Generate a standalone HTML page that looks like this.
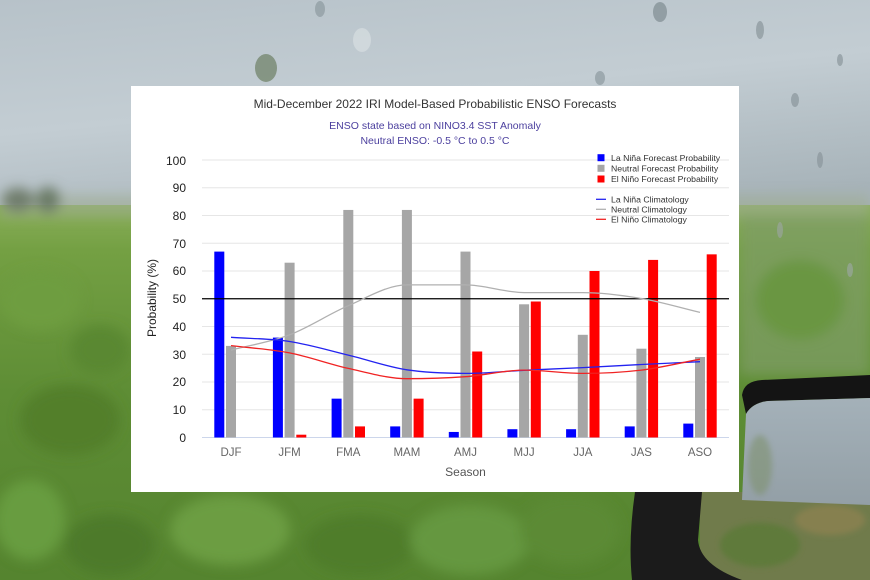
<!DOCTYPE html>
<html>
<head>
<meta charset="utf-8">
<style>
  html,body{margin:0;padding:0;width:870px;height:580px;overflow:hidden;background:#6f9a44;}
  svg{display:block;}
  text{font-family:"Liberation Sans","DejaVu Sans",sans-serif;}
</style>
</head>
<body>
<svg width="870" height="580" viewBox="0 0 870 580" xmlns="http://www.w3.org/2000/svg">
  <defs>
    <linearGradient id="sky" x1="0" y1="0" x2="0.35" y2="1">
      <stop offset="0" stop-color="#b7c2c9"/>
      <stop offset="0.5" stop-color="#c3cdd3"/>
      <stop offset="1" stop-color="#a7b3b9"/>
    </linearGradient>
    <linearGradient id="field" x1="0" y1="0" x2="0" y2="1">
      <stop offset="0" stop-color="#8aae5a"/>
      <stop offset="0.12" stop-color="#74a043"/>
      <stop offset="0.5" stop-color="#5e8d35"/>
      <stop offset="1" stop-color="#55842f"/>
    </linearGradient>
    <linearGradient id="glass" x1="0" y1="0" x2="0" y2="1">
      <stop offset="0" stop-color="#a4b1b9"/>
      <stop offset="1" stop-color="#939fa6"/>
    </linearGradient>
    <filter id="b6" x="-20%" y="-20%" width="140%" height="140%"><feGaussianBlur stdDeviation="6"/></filter>
    <filter id="b3" x="-20%" y="-20%" width="140%" height="140%"><feGaussianBlur stdDeviation="3"/></filter>
  </defs>

  <!-- background photo approximation -->
  <rect x="0" y="0" width="870" height="240" fill="url(#sky)"/>
  <rect x="0" y="205" width="870" height="375" fill="url(#field)"/>
  <g filter="url(#b6)">
    <rect x="0" y="195" width="870" height="22" fill="#9fae92" opacity="0.6"/>
    <ellipse cx="18" cy="200" rx="16" ry="12" fill="#6f7d6c"/>
    <ellipse cx="48" cy="200" rx="12" ry="13" fill="#6a7a66"/>
    <rect x="740" y="215" width="130" height="160" fill="#7f9d66" opacity="0.7"/>
    <ellipse cx="40" cy="300" rx="40" ry="30" fill="#6e9d40"/>
    <ellipse cx="70" cy="420" rx="50" ry="35" fill="#527f2c"/>
    <ellipse cx="30" cy="520" rx="35" ry="40" fill="#689c3f"/>
    <ellipse cx="110" cy="545" rx="45" ry="30" fill="#4d7a2a"/>
    <ellipse cx="230" cy="530" rx="60" ry="35" fill="#6c9d42"/>
    <ellipse cx="360" cy="545" rx="55" ry="30" fill="#4f7d2c"/>
    <ellipse cx="470" cy="540" rx="60" ry="35" fill="#659740"/>
    <ellipse cx="570" cy="530" rx="50" ry="35" fill="#5b8a34"/>
    <ellipse cx="100" cy="350" rx="30" ry="25" fill="#5a8833"/>
    <ellipse cx="800" cy="300" rx="45" ry="40" fill="#6b9643"/>
  </g>
  <!-- raindrops -->
  <g opacity="0.7">
    <ellipse cx="266" cy="68" rx="11" ry="14" fill="#6d7f64"/>
    <ellipse cx="362" cy="40" rx="9" ry="12" fill="#d7dee2"/>
    <ellipse cx="320" cy="9" rx="5" ry="8" fill="#8e9aa0"/>
    <ellipse cx="600" cy="78" rx="5" ry="7" fill="#8d9a9f"/>
    <ellipse cx="660" cy="12" rx="7" ry="10" fill="#7f8c92"/>
    <ellipse cx="760" cy="30" rx="4" ry="9" fill="#8a969c"/>
    <ellipse cx="795" cy="100" rx="4" ry="7" fill="#8a969c"/>
    <ellipse cx="840" cy="60" rx="3" ry="6" fill="#8a969c"/>
    <ellipse cx="820" cy="160" rx="3" ry="8" fill="#8a969c"/>
    <ellipse cx="780" cy="230" rx="3" ry="8" fill="#9aa69c"/>
    <ellipse cx="850" cy="270" rx="3" ry="7" fill="#9aa69c"/>
  </g>
  <!-- car mirror -->
  <rect x="700" y="492" width="170" height="88" fill="#707b4b"/>
  <g filter="url(#b3)">
    <ellipse cx="760" cy="545" rx="40" ry="22" fill="#5e7a3a"/>
    <ellipse cx="830" cy="520" rx="35" ry="15" fill="#86804f"/>
  </g>
  <path d="M742 395 Q744 381 762 380 L870 375 L870 398 L768 401 Q752 403 746 414 Z" fill="#141414"/>
  <path d="M746 414 Q752 403 768 401 L870 398 L870 505 L742 500 Z" fill="url(#glass)"/>
  <ellipse cx="760" cy="465" rx="12" ry="30" fill="#7f9270" opacity="0.6" filter="url(#b3)"/>
  <path d="M635 492 L702 492 L698 540 Q700 565 742 580 L632 580 Q628 540 635 492 Z" fill="#1b1b1b"/>

  <!-- chart panel -->
  <rect x="131" y="86" width="608" height="406" fill="#ffffff"/>

  <!-- titles -->
  <text x="435" y="108" text-anchor="middle" font-size="12" fill="#333333">Mid-December 2022 IRI Model-Based Probabilistic ENSO Forecasts</text>
  <text x="435" y="129" text-anchor="middle" font-size="10.5" fill="#4b3f9e">ENSO state based on NINO3.4 SST Anomaly</text>
  <text x="435" y="144" text-anchor="middle" font-size="10.5" fill="#4b3f9e">Neutral ENSO: -0.5 °C to 0.5 °C</text>

  <!-- gridlines -->
  <g stroke="#e6e6e6" stroke-width="1">
    <line x1="202" x2="729" y1="160" y2="160"/>
    <line x1="202" x2="729" y1="187.75" y2="187.75"/>
    <line x1="202" x2="729" y1="215.5" y2="215.5"/>
    <line x1="202" x2="729" y1="243.25" y2="243.25"/>
    <line x1="202" x2="729" y1="271" y2="271"/>
    <line x1="202" x2="729" y1="326.5" y2="326.5"/>
    <line x1="202" x2="729" y1="354.25" y2="354.25"/>
    <line x1="202" x2="729" y1="382" y2="382"/>
    <line x1="202" x2="729" y1="409.75" y2="409.75"/>
  </g>
  <line x1="202" x2="729" y1="437.5" y2="437.5" stroke="#ccd6eb" stroke-width="1"/>

  <!-- y labels -->
  <g font-size="12" fill="#222" text-anchor="end">
    <text x="186" y="165">100</text>
    <text x="186" y="192">90</text>
    <text x="186" y="220">80</text>
    <text x="186" y="248">70</text>
    <text x="186" y="275">60</text>
    <text x="186" y="303">50</text>
    <text x="186" y="331">40</text>
    <text x="186" y="359">30</text>
    <text x="186" y="386">20</text>
    <text x="186" y="414">10</text>
    <text x="186" y="442">0</text>
  </g>
  <text transform="translate(156,298) rotate(-90)" text-anchor="middle" font-size="12" fill="#222">Probability (%)</text>

  <!-- bars: La Nina (blue) -->
  <g fill="#0000ff">
    <rect x="214.3" y="251.6" width="10" height="185.9"/>
    <rect x="272.9" y="337.6" width="10" height="99.9"/>
    <rect x="331.6" y="398.65" width="10" height="38.85"/>
    <rect x="390.2" y="426.4" width="10" height="11.1"/>
    <rect x="448.8" y="431.95" width="10" height="5.55"/>
    <rect x="507.4" y="429.2" width="10" height="8.3"/>
    <rect x="566.1" y="429.2" width="10" height="8.3"/>
    <rect x="624.7" y="426.4" width="10" height="11.1"/>
    <rect x="683.3" y="423.6" width="10" height="13.9"/>
  </g>
  <!-- bars: Neutral (gray) -->
  <g fill="#a6a6a6">
    <rect x="226" y="345.9" width="10" height="91.6"/>
    <rect x="284.6" y="262.7" width="10" height="174.8"/>
    <rect x="343.3" y="209.95" width="10" height="227.55"/>
    <rect x="401.9" y="209.95" width="10" height="227.55"/>
    <rect x="460.5" y="251.6" width="10" height="185.9"/>
    <rect x="519.1" y="304.3" width="10" height="133.2"/>
    <rect x="577.8" y="334.8" width="10" height="102.7"/>
    <rect x="636.4" y="348.7" width="10" height="88.8"/>
    <rect x="695" y="357" width="10" height="80.5"/>
  </g>
  <!-- bars: El Nino (red) -->
  <g fill="#ff0000">
    <rect x="296.3" y="434.7" width="10" height="2.8"/>
    <rect x="355" y="426.4" width="10" height="11.1"/>
    <rect x="413.6" y="398.65" width="10" height="38.85"/>
    <rect x="472.2" y="351.5" width="10" height="86"/>
    <rect x="530.8" y="301.5" width="10" height="136"/>
    <rect x="589.5" y="271" width="10" height="166.5"/>
    <rect x="648.1" y="259.9" width="10" height="177.6"/>
    <rect x="706.7" y="254.35" width="10" height="183.15"/>
  </g>

  <!-- 50% line -->
  <line x1="202" x2="729" y1="298.75" y2="298.75" stroke="#000" stroke-width="1.2"/>

  <!-- climatology lines -->
  <path fill="none" stroke="#b0b0b0" stroke-width="1.3" d="M231 350.1 C250.5 345.0 270.1 342.2 289.6 334.8 C309.1 327.4 328.8 314.0 348.3 305.7 C367.8 297.4 387.4 284.9 406.9 284.9 C426.4 284.9 446.0 284.9 465.5 284.9 C485.0 284.9 504.6 292.6 524.1 292.6 C543.6 292.6 563.3 292.6 582.8 292.6 C602.3 292.6 621.9 295.2 641.4 298.5 C660.9 301.8 680.5 307.8 700.0 312.4"/>
  <path fill="none" stroke="#2323f0" stroke-width="1.3" d="M231 337.3 C250.5 338.7 270.1 338.5 289.6 341.5 C309.1 344.5 328.8 350.4 348.3 355.1 C367.8 359.8 387.4 366.8 406.9 369.8 C426.4 372.8 446.0 373.3 465.5 373.4 C485.0 373.5 504.6 371.3 524.1 370.3 C543.6 369.3 563.3 368.6 582.8 367.6 C602.3 366.6 621.9 365.5 641.4 364.5 C660.9 363.5 680.5 362.6 700.0 361.7"/>
  <path fill="none" stroke="#f02323" stroke-width="1.3" d="M231 345.6 C250.5 348.0 270.1 349.1 289.6 352.9 C309.1 356.7 328.8 364.1 348.3 368.4 C367.8 372.7 387.4 378.7 406.9 378.7 C426.4 378.7 446.0 378.1 465.5 376.7 C485.0 375.3 504.6 370.1 524.1 370.1 C543.6 370.1 563.3 373.4 582.8 373.4 C602.3 373.4 621.9 372.5 641.4 370.1 C660.9 367.7 680.5 362.8 700.0 359.2"/>

  <!-- x labels -->
  <g font-size="11.5" fill="#666" text-anchor="middle">
    <text x="231" y="456">DJF</text>
    <text x="289.6" y="456">JFM</text>
    <text x="348.3" y="456">FMA</text>
    <text x="406.9" y="456">MAM</text>
    <text x="465.5" y="456">AMJ</text>
    <text x="524.1" y="456">MJJ</text>
    <text x="582.8" y="456">JJA</text>
    <text x="641.4" y="456">JAS</text>
    <text x="700" y="456">ASO</text>
  </g>
  <text x="465.5" y="476" text-anchor="middle" font-size="12" fill="#555">Season</text>

  <!-- legend -->
  <rect x="597.5" y="154.2" width="7" height="7" fill="#0000ff"/>
  <rect x="597.5" y="164.8" width="7" height="7" fill="#a6a6a6"/>
  <rect x="597.5" y="175.5" width="7" height="7" fill="#ff0000"/>
  <line x1="596" x2="606" y1="199.3" y2="199.3" stroke="#2323f0" stroke-width="1.3"/>
  <line x1="596" x2="606" y1="209.3" y2="209.3" stroke="#b0b0b0" stroke-width="1.3"/>
  <line x1="596" x2="606" y1="219.3" y2="219.3" stroke="#f02323" stroke-width="1.3"/>
  <g font-size="8.7" fill="#333">
    <text x="611" y="160.8">La Niña Forecast Probability</text>
    <text x="611" y="171.4">Neutral Forecast Probability</text>
    <text x="611" y="182.1">El Niño Forecast Probability</text>
    <text x="611" y="202.4">La Niña Climatology</text>
    <text x="611" y="212.4">Neutral Climatology</text>
    <text x="611" y="222.4">El Niño Climatology</text>
  </g>
</svg>
</body>
</html>
